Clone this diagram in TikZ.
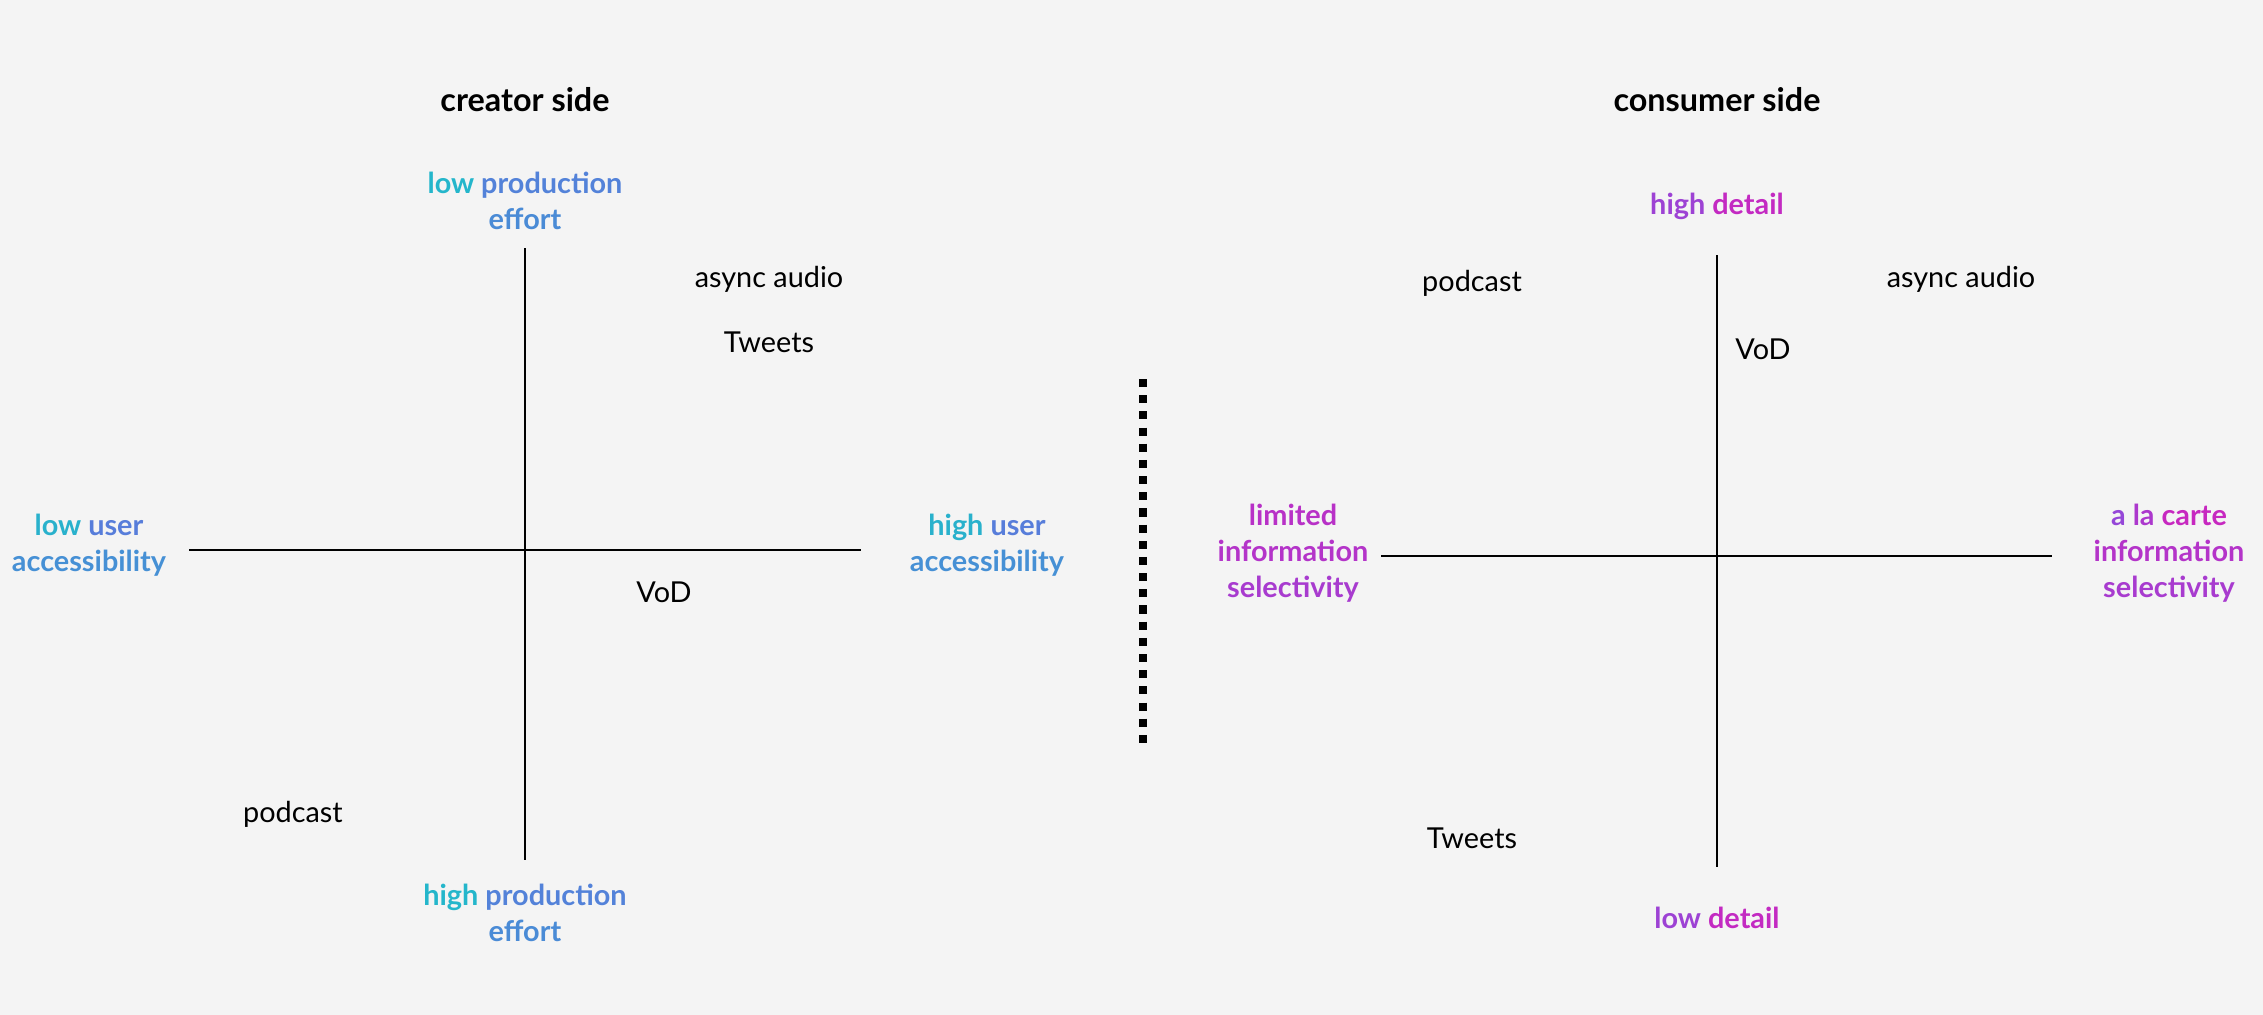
\documentclass[tikz,border=0pt]{standalone}
\usepackage{fontspec}
\setmainfont{Lato}
\usetikzlibrary{positioning}

\definecolor{bgcol}{HTML}{F4F4F4}
\definecolor{cyanA}{RGB}{28,192,200}
\definecolor{violetA}{RGB}{112,96,226}
\definecolor{violetB}{RGB}{138,78,222}
\definecolor{magentaB}{RGB}{214,30,184}

% word coloured along the gradient, #1 = percent of the far end
\newcommand{\cw}[2]{\textcolor{violetA!#1!cyanA}{#2}}
\newcommand{\mw}[2]{\textcolor{magentaB!#1!violetB}{#2}}

\begin{document}
\begin{tikzpicture}[x=0.01cm,y=-0.01cm,
  axis/.style={line width=0.6pt},
  item/.style={font=\fontsize{8.2}{10}\selectfont},
  heading/.style={font=\fontsize{9.2}{11}\selectfont\bfseries},
  pole/.style={font=\fontsize{8.2}{10.3}\selectfont\bfseries, align=center}]

\fill[bgcol] (0,0) rectangle (2263,1015);

% creator side
\node[heading] (ctitle) at (525,100) {creator side};
\coordinate (cT) at (525,248);
\coordinate (cB) at (525,860);
\coordinate (cL) at (189,550);
\coordinate (cR) at (861,550);
\draw[axis] (cT) -- (cB);
\draw[axis] (cL) -- (cR);

\node[pole] (ctop) at (525,201) {\cw{10}{low} \cw{65}{production}\\\cw{55}{effort}};
\node[pole] (cbot) at (525,913) {\cw{10}{high} \cw{65}{production}\\\cw{55}{effort}};
\node[pole] (cleft) at (89,545) {\cw{15}{low} \cw{70}{user}\\\cw{50}{accessibility}};
\node[pole] (cright) at (987,545) {\cw{15}{high} \cw{70}{user}\\\cw{50}{accessibility}};

\node[item] (cAsync) at (769,279) {async audio};
\node[item] (cTweets) at (769,342) {Tweets};
\node[item] (cVoD) at (664,592) {VoD};
\node[item] (cPod) at (293,814) {podcast};

% divider
\coordinate (dTop) at (1143,379);
\coordinate (dBot) at (1143,745);
\draw[line width=2pt, dash pattern=on 2.3pt off 2.3pt] (dTop) -- (dBot);

% consumer side
\node[heading] (ktitle) at (1717,100) {consumer side};
\coordinate (kT) at (1717,255);
\coordinate (kB) at (1717,867);
\coordinate (kL) at (1381,556);
\coordinate (kR) at (2052,556);
\draw[axis] (kT) -- (kB);
\draw[axis] (kL) -- (kR);

\node[pole] (ktop) at (1717,206) {\mw{25}{high} \mw{75}{detail}};
\node[pole] (kbot) at (1717,918) {\mw{25}{low} \mw{75}{detail}};
\node[pole] (kleft) at (1293,553) {\mw{60}{limited}\\\mw{55}{information}\\\mw{40}{selectivity}};
\node[pole] (kright) at (2169,553) {\mw{15}{a} \mw{45}{la} \mw{80}{carte}\\\mw{55}{information}\\\mw{40}{selectivity}};

\node[item] (kPod) at (1472,283) {podcast};
\node[item] (kAsync) at (1961,279) {async audio};
\node[item] (kVoD) at (1763,349) {VoD};
\node[item] (kTweets) at (1472,838) {Tweets};

\end{tikzpicture}
\end{document}
